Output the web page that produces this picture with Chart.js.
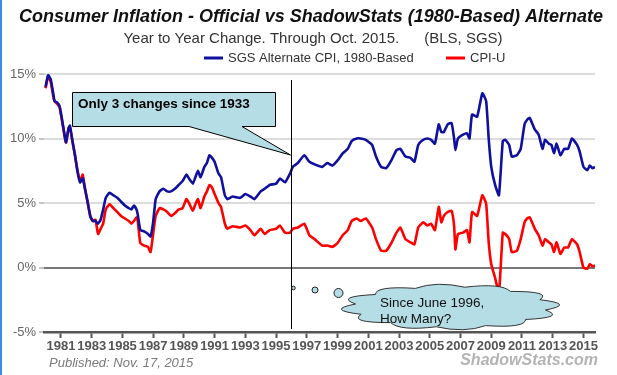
<!DOCTYPE html>
<html>
<head>
<meta charset="utf-8">
<script src="https://cdn.jsdelivr.net/npm/chart.js@4"></script>
<style>
    html, body { margin: 0; padding: 0; background: #fff; }
    #wrap { position: relative; width: 617px; height: 375px; border-left: 2px solid #3b8fe6; box-sizing: border-box; }
</style>
</head>
<body>
<div id="wrap"><canvas id="chart" width="615" height="375"></canvas></div>
<script>
// fechas (año-mes) y valores
const months = [
    '1980-01', '1980-03', '1980-05', '1980-07', '1980-08', '1980-10', '1980-12',
    '1981-02', '1981-04', '1981-05', '1981-07', '1981-08', '1981-10', '1981-12',
    '1982-02', '1982-04', '1982-06', '1982-08', '1982-10', '1982-12',
    '1983-02', '1983-04', '1983-06', '1983-08', '1983-10', '1983-12',
    '1984-03', '1984-06', '1984-09', '1984-12',
    '1985-03', '1985-06', '1985-08', '1985-10', '1985-12',
    '1986-01', '1986-03', '1986-06', '1986-09', '1986-11',
    '1987-01', '1987-03', '1987-06', '1987-09', '1987-12',
    '1988-03', '1988-06', '1988-09', '1988-12',
    '1989-03', '1989-05', '1989-08', '1989-10', '1989-12',
    '1990-02', '1990-05', '1990-07', '1990-09', '1990-11',
    '1991-01', '1991-04', '1991-06', '1991-09', '1991-11',
    '1992-03', '1992-09',
    '1993-01', '1993-05', '1993-08',
    '1994-01', '1994-04', '1994-08',
    '1995-01', '1995-04', '1995-08', '1995-12',
    '1996-02', '1996-06', '1996-11',
    '1997-03', '1997-07',
    '1998-01', '1998-05', '1998-09',
    '1999-01', '1999-05', '1999-09', '1999-12',
    '2000-04', '2000-07', '2000-11',
    '2001-04', '2001-07', '2001-11',
    '2002-03', '2002-07', '2002-11',
    '2003-02', '2003-06', '2003-10',
    '2004-01', '2004-04', '2004-08', '2004-11',
    '2005-02', '2005-05', '2005-08', '2005-10', '2005-12',
    '2006-03', '2006-06', '2006-08', '2006-09', '2006-11',
    '2007-03', '2007-06', '2007-08', '2007-10',
    '2008-02', '2008-06', '2008-09', '2008-11',
    '2009-01', '2009-04', '2009-07', '2009-10', '2009-12',
    '2010-03', '2010-05', '2010-09', '2010-12',
    '2011-03', '2011-05', '2011-07', '2011-11',
    '2012-02', '2012-05', '2012-07', '2012-10', '2012-12',
    '2013-02', '2013-04', '2013-07', '2013-10',
    '2014-01', '2014-04', '2014-08', '2014-10',
    '2015-01', '2015-04', '2015-06', '2015-08', '2015-10'
];

const sgsValues = [
    14.0, 14.9, 14.6, 13.5, 12.9, 12.8, 12.5,
    11.4, 10.2, 9.7, 10.8, 11.0, 9.8, 8.7,
    7.4, 6.6, 6.9, 6.0, 5.0, 4.0,
    3.6, 3.6, 3.4, 3.7, 4.5, 5.4,
    5.8, 5.6, 5.4, 5.1,
    4.8, 4.6, 4.5, 4.8, 4.5,
    4.1, 2.9, 2.8, 2.6, 2.4,
    3.5, 5.3, 5.9, 6.1, 5.9,
    5.9, 6.1, 6.4, 6.7,
    7.2, 6.9, 6.5, 7.0, 7.5,
    7.0, 7.8, 8.1, 8.7, 8.5,
    8.2, 7.3, 7.0, 5.6, 5.3,
    5.5, 5.4,
    5.7, 5.5, 5.3,
    5.9, 6.1, 6.4,
    6.5, 6.9, 6.6, 7.3,
    7.8, 8.1, 8.7,
    8.2, 8.0,
    7.8, 8.1, 7.9,
    8.3, 8.85, 9.2, 9.8,
    10.0, 10.0, 9.9,
    9.5, 8.6, 7.8,
    7.7, 8.3, 9.1,
    9.2, 8.6, 8.5,
    8.2, 9.5, 9.9, 10.0,
    9.9, 9.6, 11.1, 10.5, 10.5,
    11.1, 11.2, 10.0, 9.1, 10.0,
    10.3, 10.4, 10.0, 11.85,
    11.7, 13.5, 12.9, 10.0,
    7.8, 6.4, 5.6, 9.8, 9.9,
    9.5, 8.6, 8.7, 9.2,
    11.1, 11.45, 11.6, 10.7,
    10.3, 9.2, 9.9, 9.6, 9.5,
    8.85, 9.6, 8.7, 9.2,
    9.2, 10.0, 9.5, 9.0,
    7.8, 7.55, 7.9, 7.7, 7.8
];

const cpiValues = [
    13.9, 14.8, 14.4, 13.3, 12.9, 12.7, 12.4,
    11.3, 10.1, 9.7, 10.8, 10.9, 9.8, 8.7,
    7.5, 6.7, 7.2, 6.0, 5.0, 3.9,
    3.6, 3.7, 2.6, 3.0, 3.4, 4.5,
    4.9, 4.6, 4.3, 4.0,
    3.8, 3.6, 3.4, 3.6, 3.9,
    3.6, 1.9, 1.7, 1.6, 1.2,
    2.6, 4.0, 4.6, 4.5, 4.3,
    4.0, 4.2, 4.5, 4.6,
    5.3, 5.0, 4.4, 4.9, 5.3,
    4.6, 5.5, 5.9, 6.4, 6.2,
    5.7, 5.0, 4.7, 3.4, 3.0,
    3.2, 3.1,
    3.25, 2.9, 2.5,
    3.0, 2.6, 2.9,
    3.0, 3.25, 2.7, 2.7,
    3.0, 3.1, 3.4,
    2.5, 2.2,
    1.7, 1.7, 1.6,
    1.9, 2.5, 2.9, 3.6,
    3.8, 3.6, 3.8,
    3.1, 2.2, 1.3,
    1.3, 1.9, 2.7,
    3.1, 2.2, 1.95,
    1.8, 3.1, 3.5, 3.25,
    3.4, 2.9, 4.7, 3.5, 4.0,
    4.3, 4.4, 3.25, 1.4, 2.6,
    2.7, 2.9, 1.95, 4.3,
    4.0, 5.6, 4.95, 1.95,
    0.26, -0.8, -2.0, 2.7, 2.6,
    2.2, 1.2, 1.3, 2.2,
    3.5, 3.8, 3.9, 3.0,
    2.5, 1.7, 2.2, 1.95, 1.8,
    1.2, 1.95, 1.05, 1.55,
    1.55, 2.2, 1.8, 1.2,
    0.0, -0.1, 0.25, 0.1, 0.15
];

const seriesNames = ['SGS Alternate CPI, 1980-Based', 'CPI-U'];
const seriesColors = ['#1010a0', '#ff0000'];
const yearTicks = [1981, 1983, 1985, 1987, 1989, 1991, 1993, 1995, 1997, 1999, 2001, 2003, 2005, 2007, 2009, 2011, 2013, 2015];
const percentTicks = [-5, 0, 5, 10, 15];
const markerYear = 1996.0;   // linea vertical (junio 1996)

// "1980-03" -> 1980.1667
function toYear(m)
{
    const parts = m.split('-');
    return Number(parts[0]) + (Number(parts[1]) - 1) / 12;
}

function toPoints(values)
{
    return values.map((v, i) => ({ x: toYear(months[i]), y: v }));
}

// nube con bordes ondulados
function cloudPath(ctx, cx, cy, rx, ry, n)
{
    const pts = [];
    for (let i = 0; i <= n; i++)
    {
        const a = (Math.PI * 2 * i) / n + 0.15;
        pts.push([cx + rx * Math.cos(a), cy + ry * Math.sin(a)]);
    }
    ctx.beginPath();
    ctx.moveTo(pts[0][0], pts[0][1]);
    for (let i = 0; i < n; i++)
    {
        const a = (Math.PI * 2 * (i + 0.5)) / n + 0.15;
        const k = 1.32;
        ctx.quadraticCurveTo(cx + rx * k * Math.cos(a), cy + ry * k * Math.sin(a), pts[i + 1][0], pts[i + 1][1]);
    }
    ctx.closePath();
}

const decorPlugin = {
    id: 'decor',
    afterDatasetsDraw: (chart) =>
    {
        const { ctx, scales, chartArea } = chart;
        const fill = '#b5dde5';
        ctx.save();

        // linea vertical
        const lx = Math.round(scales.x.getPixelForValue(markerYear)) + 0.5;
        ctx.strokeStyle = '#000';
        ctx.lineWidth = 1;
        ctx.beginPath();
        ctx.moveTo(lx, 80);
        ctx.lineTo(lx, chartArea.bottom - 3);
        ctx.stroke();

        // recuadro con flecha
        ctx.beginPath();
        ctx.moveTo(70.5, 92.5);
        ctx.lineTo(273.5, 92.5);
        ctx.lineTo(273.5, 126.5);
        ctx.lineTo(240, 126.5);
        ctx.lineTo(lx - 1, 155);
        ctx.lineTo(187, 126.5);
        ctx.lineTo(70.5, 126.5);
        ctx.closePath();
        ctx.fillStyle = fill;
        ctx.fill();
        ctx.strokeStyle = '#000';
        ctx.lineWidth = 1;
        ctx.stroke();
        ctx.fillStyle = '#000';
        ctx.font = 'bold 13.5px Arial, "Liberation Sans", sans-serif';
        ctx.textAlign = 'left';
        ctx.textBaseline = 'middle';
        ctx.fillText('Only 3 changes since 1933', 76, 104);

        // burbujas de pensamiento
        ctx.fillStyle = fill;
        ctx.strokeStyle = '#222';
        [[lx + 2, 288, 1.8], [313, 290, 3], [336.5, 293, 4.5]].forEach(c =>
        {
            ctx.beginPath();
            ctx.arc(c[0], c[1], c[2], 0, Math.PI * 2);
            ctx.fill();
            ctx.stroke();
        });

        // nube
        cloudPath(ctx, 448.5, 307, 96, 20, 12);
        ctx.fillStyle = fill;
        ctx.fill();
        ctx.strokeStyle = '#333';
        ctx.stroke();
        ctx.fillStyle = '#111';
        ctx.font = '13.5px Arial, "Liberation Sans", sans-serif';
        ctx.fillText('Since June 1996,', 378, 303);
        ctx.fillText('How Many?', 378, 319);

        ctx.restore();
    },
    afterDraw: (chart) =>
    {
        const { ctx } = chart;
        const cx = 309;
        ctx.save();
        ctx.textBaseline = 'middle';
        ctx.textAlign = 'center';

        ctx.fillStyle = '#111';
        ctx.font = 'italic bold 18px Arial, "Liberation Sans", sans-serif';
        ctx.fillText('Consumer Inflation - Official vs ShadowStats (1980-Based) Alternate', cx, 17);

        ctx.fillStyle = '#333';
        ctx.font = '15px Arial, "Liberation Sans", sans-serif';
        ctx.fillText('Year to Year Change. Through Oct. 2015.      (BLS, SGS)', cx + 2, 39);

        // leyenda
        ctx.textAlign = 'left';
        ctx.font = '13px Arial, "Liberation Sans", sans-serif';
        const legend = [[202, seriesNames[0], seriesColors[0]], [444, seriesNames[1], seriesColors[1]]];
        legend.forEach(l =>
        {
            ctx.strokeStyle = l[2];
            ctx.lineWidth = 3;
            ctx.beginPath();
            ctx.moveTo(l[0], 58);
            ctx.lineTo(l[0] + 19, 58);
            ctx.stroke();
            ctx.fillStyle = '#333';
            ctx.fillText(l[1], l[0] + 24, 58);
        });

        // pie
        ctx.fillStyle = '#7a7a7a';
        ctx.font = 'italic 13px Arial, "Liberation Sans", sans-serif';
        ctx.fillText('Published: Nov. 17, 2015', 47, 363);

        ctx.fillStyle = '#b4b4b4';
        ctx.font = 'italic bold 16px Arial, "Liberation Sans", sans-serif';
        ctx.textAlign = 'right';
        ctx.fillText('ShadowStats.com', 596, 361);
        ctx.restore();
    }
};

new Chart(document.getElementById('chart'), {
    type: 'line',
    data: {
        datasets: [
            {
                label: seriesNames[0],
                data: toPoints(sgsValues),
                borderColor: seriesColors[0],
                borderWidth: 2.6,
                pointRadius: 0,
                tension: 0.15
            },
            {
                label: seriesNames[1],
                data: toPoints(cpiValues),
                borderColor: seriesColors[1],
                borderWidth: 2.6,
                pointRadius: 0,
                tension: 0.15
            }
        ]
    },
    options: {
        responsive: false,
        animation: false,
        layout: { padding: { top: 74, right: 22, left: 0, bottom: 0 } },
        plugins: {
            legend: { display: false },
            title: { display: false },
            tooltip: { enabled: false }
        },
        scales: {
            x: {
                type: 'linear',
                min: 1979.9,
                max: 2015.75,
                afterBuildTicks: (scale) => { scale.ticks = yearTicks.map(v => ({ value: v })); },
                afterFit: (scale) => { scale.height = 43; },
                ticks: {
                    callback: (v) => String(v),
                    color: '#555',
                    font: { family: 'Arial, "Liberation Sans", sans-serif', size: 13, weight: 'bold' },
                    padding: 1,
                    maxRotation: 0,
                    autoSkip: false
                },
                grid: { drawOnChartArea: false, tickLength: 6, tickColor: '#555', tickWidth: 2 },
                border: { display: true, color: '#555', width: 2.5 }
            },
            y: {
                min: -5,
                max: 15,
                afterBuildTicks: (scale) => { scale.ticks = percentTicks.map(v => ({ value: v })); },
                afterFit: (scale) => { scale.width = 42; },
                ticks: {
                    callback: (v) => v + '%',
                    color: '#666',
                    font: { family: 'Arial, "Liberation Sans", sans-serif', size: 13 },
                    padding: 3
                },
                grid: {
                    color: (c) => (c.tick && c.tick.value === 0) ? '#777' : '#dcdcdc',
                    lineWidth: 2,
                    tickColor: '#888',
                    tickLength: 5,
                    tickWidth: 1
                },
                border: { display: false }
            }
        }
    },
    plugins: [decorPlugin]
});
</script>
</body>
</html>
